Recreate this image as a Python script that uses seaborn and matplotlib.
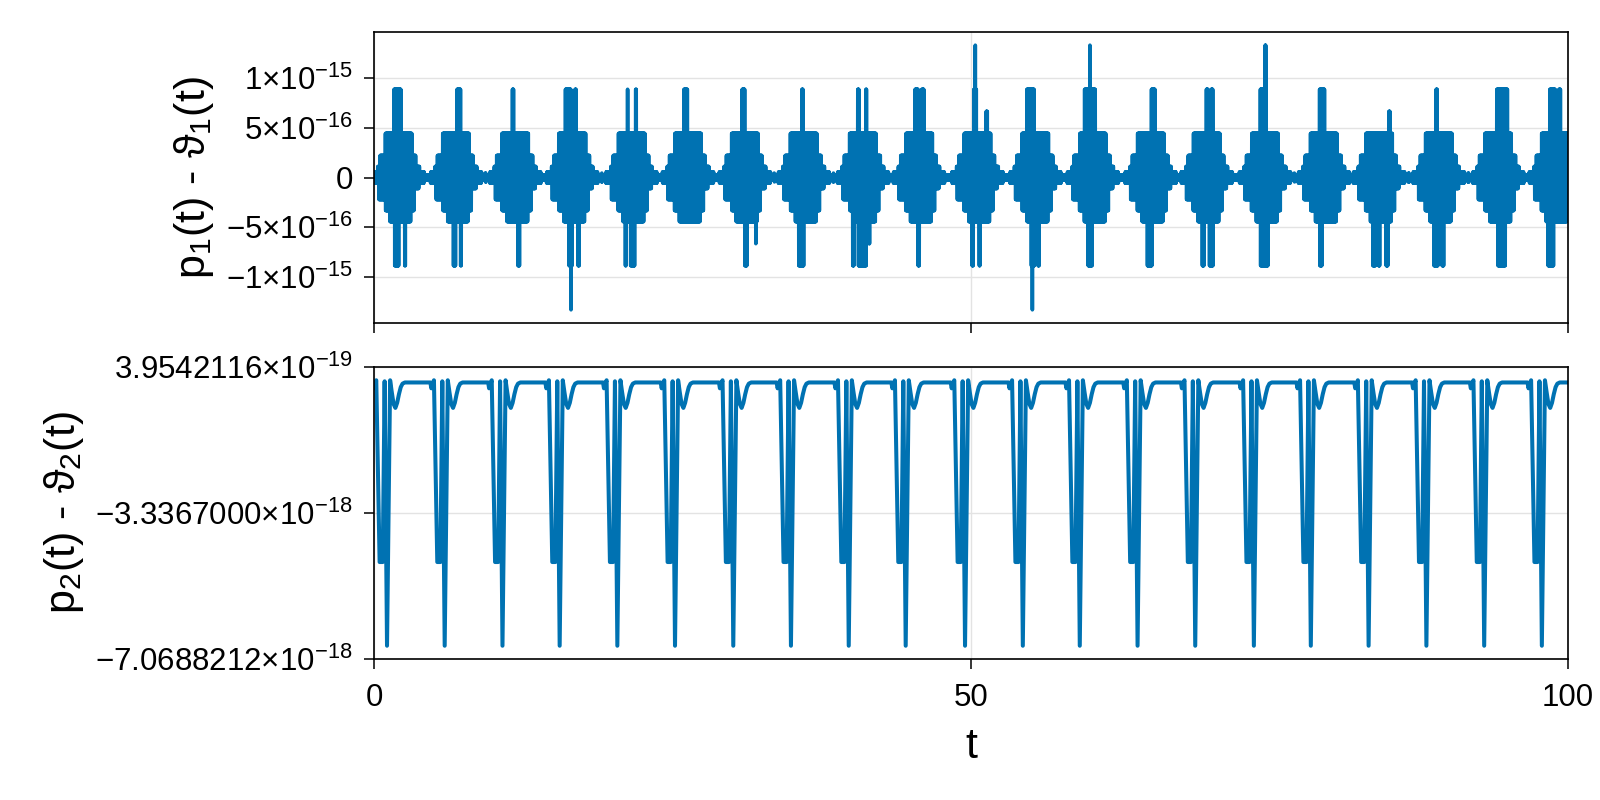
# p(t) - theta(t) error plot, two stacked panels

import numpy as np
import pandas as pd
import matplotlib
matplotlib.use("Agg")
import matplotlib.pyplot as plt
import seaborn as sns

sns.set_style("ticks")
plt.rcParams["font.family"] = ["Liberation Sans", "DejaVu Sans"]
plt.rcParams["mathtext.fontset"] = "custom"
plt.rcParams["mathtext.rm"] = "Liberation Sans"
plt.rcParams["mathtext.it"] = "Liberation Sans"
plt.rcParams["text.color"] = "black"
plt.rcParams["axes.labelcolor"] = "black"
plt.rcParams["xtick.color"] = "black"
plt.rcParams["ytick.color"] = "black"

BLUE = "#0072B2"

# =======================
# 1. Data
# =======================
EPS = 1.1102230246251565e-16   # top panel levels are multiples of this

# centres of the error bursts in the top panel
burst_centres = [2.07, 6.87, 11.84, 16.60, 21.57, 26.30, 31.07, 36.00, 40.96, 45.65,
                 50.54, 55.40, 60.20, 65.05, 69.74, 74.62, 79.56, 84.17, 89.17, 94.16, 98.90]

# burst envelope: (offset start, offset end, level in EPS), offsets from the centre
burst_upper = [(-2.45, -2.15, 0.2), (-2.15, -1.76, 0.5), (-1.76, -1.56, 1), (-1.56, -1.12, 2),
               (-1.12, 1.12, 4), (1.12, 1.45, 2), (1.45, 1.75, 1), (1.75, 2.15, 0.5), (2.15, 2.45, 0.2)]
burst_lower = [(-2.45, -2.15, -0.2), (-2.15, -1.68, -0.5), (-1.68, -1.12, -2), (-1.12, -0.73, -3),
               (-0.73, 1.03, -4), (1.03, 1.31, -3), (1.31, 1.68, -1), (1.68, 2.15, -0.5), (2.15, 2.45, -0.2)]
baseline_level = 0.4

# single spikes: (t start, t end, level in EPS)
spikes = [
    (1.56, 2.35, 8), (1.62, 2.18, -8), (2.46, 2.74, -8),
    (6.84, 7.34, 8), (6.56, 6.92, -8), (7.15, 7.43, -8),
    (11.47, 11.81, 8), (11.95, 12.28, -8),
    (15.91, 16.61, 8), (16.72, 17.03, 8), (16.22, 16.69, -8), (16.97, 17.31, -8), (16.45, 16.55, -12),
    (21.10, 21.38, 8), (21.78, 22.08, 8), (20.94, 21.24, -8), (21.38, 21.94, -8),
    (25.85, 26.35, 8),
    (30.74, 31.16, 8), (30.93, 31.35, -8), (31.85, 32.10, -6),
    (35.73, 36.04, 8), (35.45, 36.10, -8),
    (40.42, 40.70, 8), (41.07, 41.37, 8), (40.00, 40.28, -8), (40.48, 41.33, -8), (41.33, 41.60, -6),
    (45.22, 45.67, 8), (45.78, 46.15, 8), (45.47, 45.78, -8),
    (50.11, 50.56, 8), (50.30, 50.42, 12), (51.17, 51.48, 6), (49.99, 50.31, -8), (50.56, 50.87, -8),
    (54.58, 55.39, 8), (54.94, 55.42, -8), (55.50, 55.83, -8), (55.08, 55.20, -12),
    (59.41, 60.52, 8), (59.90, 60.02, 12), (59.69, 60.24, -8),
    (65.00, 65.50, 8), (64.66, 65.27, -8),
    (69.60, 69.96, 8), (70.02, 70.35, 8), (69.26, 69.60, -8), (69.88, 70.38, -8),
    (74.12, 74.54, 8), (74.60, 74.72, 12), (74.15, 74.99, -8),
    (79.09, 79.71, 8), (79.09, 79.51, -8),
    (84.87, 85.20, 6), (83.55, 83.97, -8), (84.03, 84.34, -8), (84.67, 85.00, -8),
    (88.86, 89.14, 8), (88.67, 89.23, -8), (89.36, 89.70, -8),
    (93.92, 95.05, 8), (94.04, 94.87, -8),
    (98.35, 99.05, 8), (99.13, 99.47, 8), (98.21, 98.91, -8),
]

# bottom panel: times of the deep dips
dip_times = [1.09, 5.92, 10.76, 15.55, 20.38, 25.21, 30.09, 34.92, 39.76, 44.53, 49.50,
             54.34, 59.11, 63.95, 68.78, 73.69, 78.46, 83.30, 88.14, 92.98, 97.81]
# one period of the curve around a deep dip (offset from dip, value in 1e-18)
period_offsets = [-1.20, -1.12, -1.02, -0.90, -0.62, -0.36, -0.20, 0.00, 0.26, 0.40, 0.55,
                  0.70, 0.85, 1.00, 1.15, 1.30, 1.50, 3.40]
period_values = [0.0, -0.15, -0.05, 0.056, -4.59, -4.59, 0.03, -6.73, 0.056, -0.25, -0.55,
                 -0.65, -0.52, -0.30, -0.12, -0.03, 0.0, 0.0]

top_ticks = [-1e-15, -5e-16, 0, 5e-16, 1e-15]
top_ticklabels = [r"$-1{\times}10^{-15}$", r"$-5{\times}10^{-16}$", "0",
                  r"$5{\times}10^{-16}$", r"$1{\times}10^{-15}$"]
bot_ticks = [-7.0688212e-18, -3.3367000e-18, 3.9542116e-19]
bot_ticklabels = [r"$-7.0688212{\times}10^{-18}$", r"$-3.3367000{\times}10^{-18}$",
                  r"$3.9542116{\times}10^{-19}$"]
x_ticks = [0, 50, 100]

# =======================
# 2. Build the series
# =======================
t1 = np.round(np.arange(0, 100.0001, 0.02), 4)
hi = np.full(len(t1), baseline_level)
lo = np.full(len(t1), -baseline_level)
for c in burst_centres:
    for a, b, v in burst_upper:
        hi[(t1 >= c + a) & (t1 < c + b)] = v
    for a, b, v in burst_lower:
        lo[(t1 >= c + a) & (t1 < c + b)] = v
for a, b, v in spikes:
    pad = max(min(0.1, (b - a) / 2 - 0.03), 0)   # line width eats part of the block
    m = (t1 >= a + pad) & (t1 <= b - pad)
    if v > 0:
        hi[m] = np.maximum(hi[m], v)
    else:
        lo[m] = np.minimum(lo[m], v)
# the error flips sign from one step to the next
y1 = np.where(np.arange(len(t1)) % 2 == 0, hi, lo) * EPS
top = pd.DataFrame({"t": t1, "err": y1})

rows = []
for td in dip_times:
    for off, val in zip(period_offsets, period_values):
        rows.append((td + off, val * 1e-18))
bottom = pd.DataFrame(rows, columns=["t", "err"]).sort_values("t")

# =======================
# 3. Plot
# =======================
fig = plt.figure(figsize=(16, 8), dpi=100)
ax1 = fig.add_axes([0.23375, 0.59625, 0.74625, 0.36375])
ax2 = fig.add_axes([0.23375, 0.17625, 0.74625, 0.365])

sns.lineplot(data=top, x="t", y="err", ax=ax1, color=BLUE, linewidth=2.6,
             estimator=None, errorbar=None, sort=False)
sns.lineplot(data=bottom, x="t", y="err", ax=ax2, color=BLUE, linewidth=2.9,
             estimator=None, errorbar=None, sort=False)

ax1.set_ylim(-1.4652e-15, 1.4652e-15)
ax2.set_ylim(-7.0688212e-18, 3.9542116e-19)

for ax in (ax1, ax2):
    ax.set_xlim(0, 100)
    ax.set_xticks(x_ticks)
    ax.grid(True, color="#e3e3e3", linewidth=1.0)
    ax.set_axisbelow(True)
    for s in ax.spines.values():
        s.set_visible(True)
        s.set_linewidth(1.2)
        s.set_color("black")
    ax.tick_params(direction="out", length=7.2, width=1.1, labelsize=22.5, pad=8)
    ax.tick_params(axis="x", pad=10)

ax1.set_yticks(top_ticks)
ax1.set_yticklabels(top_ticklabels)
ax1.set_xticklabels([])
ax1.set_xlabel("")
ax1.set_ylabel(r"p$_1$(t) - ϑ$_1$(t)", fontsize=31, labelpad=7)

ax2.set_yticks(bot_ticks)
ax2.set_yticklabels(bot_ticklabels)
ax2.set_xticklabels([str(v) for v in x_ticks])
ax2.set_xlabel("t", fontsize=31, labelpad=10)
ax2.set_ylabel(r"p$_2$(t) - ϑ$_2$(t)", fontsize=31, labelpad=7)

fig.savefig("out.png", dpi=100)
